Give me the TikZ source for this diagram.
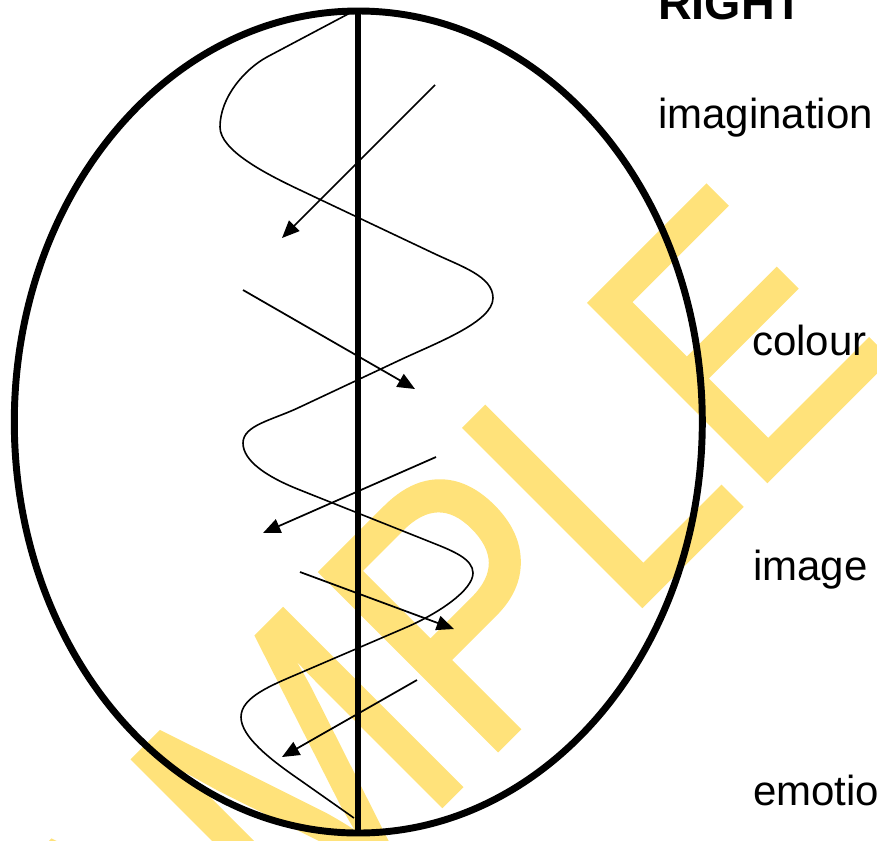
\documentclass[tikz,border=0pt]{standalone}
\usepackage{fontspec}
\setmainfont{Liberation Sans}
\newfontfamily\wmfont[FakeBold=1]{Liberation Sans}
\usetikzlibrary{arrows.meta}
\definecolor{wmyellow}{RGB}{255,226,122}
\begin{document}
\begin{tikzpicture}[x=0.75pt,y=-0.75pt,
  brainline/.style={line width=5.2pt},
  wave/.style={line width=1.2pt},
  flow/.style={line width=1.3pt,-{Triangle[length=13pt,width=11pt]}},
  lbl/.style={anchor=base west,inner sep=0pt,font=\fontsize{31.5}{36}\selectfont},
  wm/.style={inner sep=0pt,rotate=45,xscale=0.87,text=wmyellow,font=\wmfont\fontsize{274}{274}\selectfont}]
\useasboundingbox (0,0) rectangle (877,840);
\clip (0,0) rectangle (877,840);
% watermark
\coordinate (wmorigin) at (623.6,624.4);
\coordinate (wmorigin2) at (629.6,618.4);
\node[wm,anchor=base east] (wmA) at (wmorigin2) {SAMP};
\node[wm,anchor=base west] (wmB) at (wmorigin) {LE};
% brain outline
\coordinate (ctr) at (358.3,422);
\draw[brainline] (ctr) ellipse [x radius=344, y radius=411];
\coordinate (top) at (358,11);
\coordinate (bot) at (358,833);
\draw[brainline] (top) -- (bot);
% wave
\coordinate (w0) at (350,13);
\coordinate (w7) at (354,818);
\draw[wave] (w0) -- (267,57) .. controls (245,69) and (220,97) .. (220,127)
  .. controls (220,150) and (264,173) .. (300,190) -- (433,253)
  .. controls (460,266) and (493,276) .. (493,298)
  .. controls (493,322) and (436,343) .. (400,360) -- (300,407)
  .. controls (273,420) and (243,425) .. (243,443)
  .. controls (243,461) and (267,477) .. (300,490) -- (433,543)
  .. controls (453,551) and (473,559) .. (473,573)
  .. controls (473,590) and (439,613) .. (407,627) -- (300,673)
  .. controls (272,685) and (241,697) .. (241,717)
  .. controls (241,737) and (271,760) .. (300,780) -- (w7);
% arrows
\coordinate (a1s) at (435,85);  \coordinate (a1e) at (282,238);
\coordinate (a2s) at (243,290); \coordinate (a2e) at (415,389);
\coordinate (a3s) at (436,457); \coordinate (a3e) at (263,533);
\coordinate (a4s) at (300,572); \coordinate (a4e) at (454,629);
\coordinate (a5s) at (417,680); \coordinate (a5e) at (282,757);
\draw[flow] (a1s) -- (a1e);
\draw[flow] (a2s) -- (a2e);
\draw[flow] (a3s) -- (a3e);
\draw[flow] (a4s) -- (a4e);
\draw[flow] (a5s) -- (a5e);
% labels
\node[lbl,font=\fontsize{35}{40}\selectfont\bfseries] (right) at (658,19) {RIGHT};
\node[lbl] (imag) at (658,128) {imagination};
\node[lbl] (col) at (752,355) {colour};
\node[lbl] (img) at (753,580) {image};
\node[lbl] (emo) at (753,805) {emotion};
\end{tikzpicture}
\end{document}
